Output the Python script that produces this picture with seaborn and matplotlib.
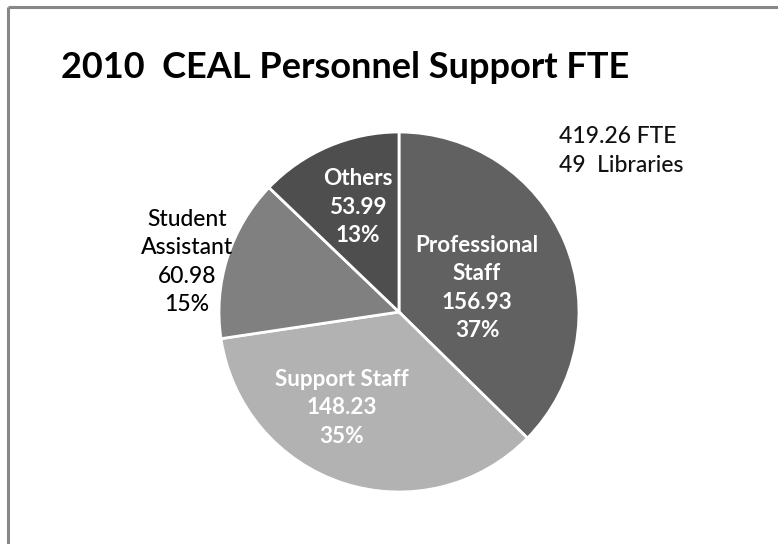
import matplotlib
matplotlib.use("Agg")
import matplotlib.pyplot as plt
import seaborn as sns

categories = ["Professional\nStaff", "Support Staff", "Student\nAssistant", "Others"]
values = [156.93, 148.23, 60.98, 53.99]
percents = ["37%", "35%", "15%", "13%"]
colors = ["#616161", "#b2b2b2", "#808080", "#4e4e4e"]
title = "2010  CEAL Personnel Support FTE"
note = "419.26 FTE\n49  Libraries"

sns.set_theme(style="white")
plt.rcParams['font.family'] = ['Lato', 'DejaVu Sans']

fig = plt.figure(figsize=(7.78, 5.44), dpi=100)
ax = fig.add_axes([0, 0, 1, 1])
H = 544

cx, cy, r = 399, H - 312, 180
wedges, _ = ax.pie(values, colors=colors, startangle=90, counterclock=False,
                   center=(cx, cy), radius=r, frame=True,
                   wedgeprops=dict(edgecolor='white', linewidth=2))
ax.set_xlim(0, 778)
ax.set_ylim(0, H)
ax.set_aspect('equal')
ax.axis('off')

# frame lines (top and left)
ax.plot([8, 778], [H - 7, H - 7], color="#878787", lw=2.2, solid_capstyle='butt')
ax.plot([8, 8], [H - 7, 0], color="#878787", lw=2.2, solid_capstyle='butt')

ax.text(61, H - 67, title, fontsize=26, fontweight='bold', color='black',
        ha='left', va='center')
ax.text(559, H - 151, note, fontsize=16.5, fontweight='medium', color='#111111',
        ha='left', va='center', linespacing=1.45)

label_pos = [(477, H - 288), (342, H - 408), (187, H - 262), (358, H - 207)]
label_col = ['white', 'white', 'black', 'white']
for cat, v, p, (x, y), c in zip(categories, values, percents, label_pos, label_col):
    ax.text(x, y, f"{cat}\n{v:.2f}\n{p}", fontsize=16.2 if c == 'white' else 16.5,
            fontweight='bold' if c == 'white' else 'medium', color=c,
            ha='center', va='center', linespacing=1.42)

fig.savefig("out.png", dpi=100)
